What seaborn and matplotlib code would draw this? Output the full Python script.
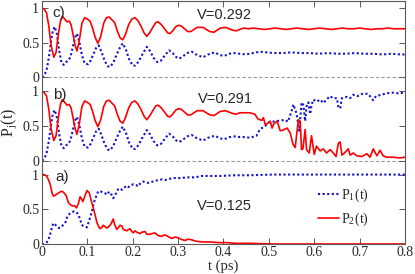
import numpy as np
import seaborn as sns
import matplotlib
matplotlib.use("Agg")
import matplotlib.pyplot as plt

# ---- data ----
# common early part for panels b) and c) (they coincide up to t ~ 0.44 ps)
t_p2_early = [0.000, 0.005, 0.010, 0.015, 0.020, 0.026, 0.031, 0.036, 0.041, 0.045,
              0.050, 0.055, 0.060, 0.064, 0.069, 0.073, 0.077, 0.082, 0.088, 0.094,
              0.100, 0.106, 0.111, 0.117, 0.123, 0.129, 0.136, 0.142, 0.148, 0.154,
              0.160, 0.166, 0.172, 0.178, 0.184, 0.191, 0.198, 0.205, 0.211, 0.218,
              0.225, 0.231, 0.238, 0.245, 0.251, 0.256, 0.263, 0.270, 0.277, 0.282,
              0.288, 0.295, 0.301, 0.307, 0.314, 0.321, 0.328, 0.335, 0.342, 0.355,
              0.362, 0.370, 0.379, 0.386, 0.393, 0.405, 0.412, 0.420, 0.428, 0.436]
p2_early = [1.00, 0.98, 0.93, 0.74, 0.46, 0.29, 0.36, 0.62, 0.82, 0.88,
            0.84, 0.80, 0.81, 0.76, 0.60, 0.46, 0.38, 0.52, 0.78, 0.86,
            0.84, 0.81, 0.72, 0.58, 0.49, 0.58, 0.78, 0.86, 0.87, 0.83,
            0.79, 0.67, 0.57, 0.54, 0.62, 0.76, 0.84, 0.86, 0.82, 0.74,
            0.64, 0.59, 0.65, 0.73, 0.79, 0.80, 0.76, 0.70, 0.64, 0.63,
            0.67, 0.73, 0.75, 0.74, 0.70, 0.66, 0.66, 0.69, 0.72, 0.72,
            0.69, 0.66, 0.65, 0.68, 0.71, 0.72, 0.70, 0.68, 0.67, 0.69]

t_p1_early = [0.000, 0.005, 0.010, 0.015, 0.020, 0.024, 0.028, 0.033, 0.038, 0.043,
              0.048, 0.053, 0.058, 0.063, 0.068, 0.073, 0.077, 0.082, 0.088, 0.094,
              0.101, 0.107, 0.113, 0.119, 0.125, 0.131, 0.138, 0.145, 0.150, 0.157,
              0.164, 0.172, 0.178, 0.185, 0.192, 0.200, 0.206, 0.213, 0.222, 0.231,
              0.238, 0.246, 0.254, 0.262, 0.270, 0.280, 0.288, 0.296, 0.303, 0.312,
              0.320, 0.330, 0.342, 0.355, 0.366, 0.381, 0.392, 0.402, 0.413, 0.425,
              0.436]
p1_early = [0.00, 0.03, 0.10, 0.28, 0.52, 0.68, 0.73, 0.62, 0.38, 0.21,
            0.18, 0.22, 0.24, 0.30, 0.44, 0.58, 0.63, 0.52, 0.32, 0.20,
            0.19, 0.24, 0.33, 0.42, 0.46, 0.37, 0.24, 0.16, 0.15, 0.21,
            0.32, 0.43, 0.49, 0.40, 0.26, 0.17, 0.17, 0.23, 0.34, 0.44,
            0.38, 0.28, 0.22, 0.24, 0.31, 0.39, 0.35, 0.29, 0.27, 0.31,
            0.35, 0.37, 0.32, 0.29, 0.33, 0.36, 0.32, 0.31, 0.34, 0.35,
            0.34]

# panel c) tails, V = 0.292
t_p2_c_tail = [0.445, 0.455, 0.466, 0.478, 0.490, 0.502, 0.514, 0.526, 0.538, 0.550,
               0.562, 0.575, 0.588, 0.600, 0.612, 0.625, 0.638, 0.650, 0.662, 0.675,
               0.688, 0.700, 0.712, 0.725, 0.738, 0.750, 0.762, 0.775, 0.788, 0.800]
p2_c_tail = [0.71, 0.70, 0.71, 0.70, 0.69, 0.70, 0.71, 0.70, 0.69, 0.70,
             0.71, 0.70, 0.69, 0.70, 0.71, 0.70, 0.69, 0.70, 0.71, 0.70,
             0.70, 0.71, 0.70, 0.69, 0.70, 0.70, 0.71, 0.70, 0.70, 0.70]
t_p1_c_tail = [0.450, 0.465, 0.480, 0.495, 0.510, 0.530, 0.550, 0.570, 0.590, 0.610,
               0.630, 0.650, 0.670, 0.690, 0.710, 0.730, 0.750, 0.770, 0.790, 0.800]
p1_c_tail = [0.33, 0.35, 0.37, 0.36, 0.35, 0.35, 0.36, 0.35, 0.35, 0.34,
             0.35, 0.34, 0.34, 0.35, 0.34, 0.34, 0.33, 0.34, 0.33, 0.33]

# panel b) tails, V = 0.291
t_p2_b_tail = [0.447, 0.458, 0.469, 0.476, 0.485, 0.488, 0.492, 0.498, 0.503, 0.507,
               0.511, 0.518, 0.525, 0.531, 0.540, 0.547, 0.553, 0.558, 0.565, 0.569,
               0.572, 0.575, 0.580, 0.583, 0.589, 0.594, 0.600, 0.605, 0.613, 0.620,
               0.627, 0.635, 0.642, 0.648, 0.653, 0.657, 0.661, 0.668, 0.675, 0.679,
               0.686, 0.694, 0.705, 0.716, 0.723, 0.730, 0.738, 0.745, 0.752, 0.760,
               0.774, 0.789, 0.800]
p2_b_tail = [0.69, 0.69, 0.67, 0.60, 0.58, 0.62, 0.52, 0.54, 0.57, 0.47,
             0.53, 0.57, 0.43, 0.44, 0.47, 0.40, 0.24, 0.19, 0.59, 0.57,
             0.16, 0.17, 0.45, 0.16, 0.11, 0.36, 0.09, 0.21, 0.14, 0.17,
             0.11, 0.16, 0.11, 0.06, 0.25, 0.27, 0.08, 0.12, 0.17, 0.08,
             0.11, 0.07, 0.06, 0.10, 0.05, 0.17, 0.07, 0.15, 0.07, 0.05,
             0.05, 0.04, 0.05]
t_p1_b_tail = [0.447, 0.458, 0.473, 0.480, 0.492, 0.499, 0.507, 0.517, 0.528, 0.536,
               0.542, 0.550, 0.554, 0.561, 0.567, 0.572, 0.576, 0.580, 0.583, 0.587,
               0.591, 0.594, 0.598, 0.605, 0.613, 0.620, 0.627, 0.635, 0.641, 0.650,
               0.653, 0.657, 0.661, 0.672, 0.679, 0.686, 0.696, 0.708, 0.719, 0.730,
               0.736, 0.749, 0.758, 0.774, 0.785, 0.800]
p1_b_tail = [0.34, 0.33, 0.36, 0.45, 0.50, 0.55, 0.56, 0.57, 0.58, 0.59,
             0.56, 0.71, 0.81, 0.68, 0.43, 0.84, 0.80, 0.57, 0.78, 0.84,
             0.67, 0.80, 0.88, 0.85, 0.88, 0.83, 0.88, 0.93, 0.90, 0.90,
             0.78, 0.75, 0.90, 0.92, 0.90, 0.95, 0.93, 0.97, 0.96, 0.87,
             0.93, 0.95, 0.97, 0.98, 0.97, 0.98]

# panel a), V = 0.125
t_p2_a = [0.000, 0.004, 0.010, 0.014, 0.018, 0.022, 0.025, 0.029, 0.033, 0.040,
          0.044, 0.048, 0.053, 0.058, 0.062, 0.066, 0.072, 0.076, 0.080, 0.084,
          0.087, 0.090, 0.095, 0.099, 0.104, 0.108, 0.113, 0.117, 0.121, 0.125,
          0.128, 0.132, 0.135, 0.139, 0.143, 0.147, 0.150, 0.153, 0.157, 0.160,
          0.165, 0.169, 0.172, 0.176, 0.179, 0.183, 0.187, 0.191, 0.194, 0.198,
          0.201, 0.205, 0.209, 0.216, 0.220, 0.227, 0.231, 0.238, 0.242, 0.249,
          0.256, 0.264, 0.269, 0.275, 0.280, 0.286, 0.293, 0.300, 0.306, 0.315,
          0.322, 0.330, 0.339, 0.352, 0.370, 0.389, 0.408, 0.425, 0.458, 0.509,
          0.569, 0.800]
p2_a = [1.00, 1.00, 0.98, 0.93, 0.86, 0.74, 0.69, 0.70, 0.72, 0.75,
        0.76, 0.74, 0.70, 0.60, 0.57, 0.55, 0.55, 0.52, 0.58, 0.68,
        0.65, 0.61, 0.70, 0.77, 0.74, 0.64, 0.52, 0.42, 0.31, 0.25,
        0.22, 0.24, 0.27, 0.25, 0.23, 0.25, 0.27, 0.30, 0.36, 0.28,
        0.21, 0.24, 0.27, 0.26, 0.21, 0.20, 0.19, 0.21, 0.22, 0.18,
        0.16, 0.19, 0.17, 0.15, 0.17, 0.18, 0.14, 0.14, 0.15, 0.16,
        0.12, 0.11, 0.13, 0.12, 0.10, 0.08, 0.10, 0.09, 0.07, 0.05,
        0.07, 0.06, 0.04, 0.03, 0.03, 0.02, 0.02, 0.01, 0.01, 0.00,
        0.00, 0.00]
t_p1_a = [0.000, 0.004, 0.010, 0.014, 0.018, 0.022, 0.025, 0.029, 0.033, 0.037,
          0.042, 0.046, 0.051, 0.055, 0.058, 0.062, 0.066, 0.071, 0.076, 0.080,
          0.084, 0.087, 0.091, 0.095, 0.099, 0.102, 0.106, 0.110, 0.113, 0.117,
          0.121, 0.124, 0.128, 0.132, 0.135, 0.139, 0.143, 0.146, 0.150, 0.154,
          0.157, 0.161, 0.165, 0.168, 0.172, 0.176, 0.179, 0.187, 0.191, 0.194,
          0.201, 0.207, 0.212, 0.216, 0.223, 0.229, 0.234, 0.240, 0.249, 0.256,
          0.264, 0.271, 0.282, 0.293, 0.304, 0.322, 0.337, 0.352, 0.370, 0.392,
          0.425, 0.458, 0.509, 0.569, 0.657, 0.800]
p1_a = [0.00, 0.00, 0.02, 0.06, 0.14, 0.24, 0.30, 0.28, 0.25, 0.23,
        0.24, 0.27, 0.30, 0.38, 0.42, 0.44, 0.46, 0.47, 0.46, 0.42,
        0.36, 0.28, 0.26, 0.25, 0.24, 0.30, 0.38, 0.47, 0.56, 0.65,
        0.71, 0.76, 0.76, 0.75, 0.74, 0.73, 0.71, 0.74, 0.75, 0.70,
        0.66, 0.70, 0.76, 0.79, 0.80, 0.78, 0.80, 0.84, 0.82, 0.84,
        0.86, 0.85, 0.83, 0.87, 0.90, 0.89, 0.88, 0.89, 0.91, 0.92,
        0.93, 0.92, 0.94, 0.95, 0.95, 0.96, 0.96, 0.98, 0.98, 0.98,
        0.99, 0.99, 1.00, 1.00, 1.00, 1.00]

panel_shift = [0.0, 1.2, 2.4]   # a), b), c) stacked in one axes
y_ticks = [0, 0.5, 1, 1.2, 1.7, 2.2, 2.4, 2.9, 3.4]
y_ticklabels = ['0', '0.5', '1', '0', '0.5', '1', '0', '0.5', '1']
x_ticks = [0, 0.1, 0.2, 0.3, 0.4, 0.5, 0.6, 0.7, 0.8]
x_ticklabels = ['0', '0.1', '0.2', '0.3', '0.4', '0.5', '0.6', '0.7', '0.8']

# ---- style ----
sns.set_style("ticks")
plt.rcParams['font.family'] = ['Liberation Serif', 'DejaVu Serif']
plt.rcParams['mathtext.fontset'] = 'stix'
plt.rcParams['xtick.direction'] = 'in'
plt.rcParams['ytick.direction'] = 'in'

RED = '#ff0000'
BLUE = '#1010d0'
dotted = (0, (1, 1.2))

fig = plt.figure(figsize=(4.15, 2.74), dpi=100)
ax = fig.add_axes([0.1012, 0.1095, 0.8747, 0.8869])

for yy in panel_shift[1:]:
    ax.axhline(yy, color='0.6', ls=(0, (3, 2)), lw=0.8, zorder=0)

curves = [
    (t_p1_a, p1_a, 0.0, BLUE, dotted, 1.5),
    (t_p2_a, p2_a, 0.0, RED, '-', 1.2),
    (t_p1_early + t_p1_b_tail, p1_early + p1_b_tail, 1.2, BLUE, dotted, 1.5),
    (t_p2_early + t_p2_b_tail, p2_early + p2_b_tail, 1.2, RED, '-', 1.2),
    (t_p1_early + t_p1_c_tail, p1_early + p1_c_tail, 2.4, BLUE, dotted, 1.5),
    (t_p2_early + t_p2_c_tail, p2_early + p2_c_tail, 2.4, RED, '-', 1.2),
]
for tt, pp, shift, col, ls, lw in curves:
    sns.lineplot(x=np.array(tt), y=np.array(pp) + shift, ax=ax, color=col,
                 linestyle=ls, linewidth=lw, estimator=None, sort=False)

ax.set_xlim(0, 0.8)
ax.set_ylim(0, 3.5)
ax.set_xticks(x_ticks)
ax.set_xticklabels(x_ticklabels)
ax.set_yticks(y_ticks)
ax.set_yticklabels(y_ticklabels)
ax.tick_params(axis='both', which='both', direction='in', length=4, width=0.7,
               labelsize=10, top=True, right=True, color='0.35', pad=2)
ax.tick_params(axis='x', pad=1.5)
for sp in ax.spines.values():
    sp.set_color('0.35')
    sp.set_linewidth(0.8)

ax.set_xlabel('t (ps)', fontsize=10.5, labelpad=0)
ax.set_ylabel(r'P$_{\mathregular{j}}$(t)', fontsize=11.5, labelpad=2)

sans = ['Liberation Sans', 'DejaVu Sans']
ax.text(0.0236, 3.33, 'c)', family=sans, fontsize=11, va='center', ha='left')
ax.text(0.0250, 2.14, 'b)', family=sans, fontsize=11, va='center', ha='left')
ax.text(0.0287, 0.97, 'a)', family=sans, fontsize=11, va='center', ha='left')
ax.text(0.341, 3.30, 'V=0.292', family=sans, fontsize=10.5, va='center', ha='left')
ax.text(0.344, 2.09, 'V=0.291', family=sans, fontsize=10.5, va='center', ha='left')
ax.text(0.341, 0.55, 'V=0.125', family=sans, fontsize=10.5, va='center', ha='left')

ax.legend(handles=[ax.lines[2], ax.lines[3]],
          labels=[r'P$_{\mathregular{1}}$(t)', r'P$_{\mathregular{2}}$(t)'],
          loc='center left', bbox_to_anchor=(0.76, 0.15), frameon=False,
          fontsize=10, handlelength=1.5, handletextpad=0.2, labelspacing=0.45,
          borderpad=0, borderaxespad=0)

fig.savefig('out.png', dpi=100)
